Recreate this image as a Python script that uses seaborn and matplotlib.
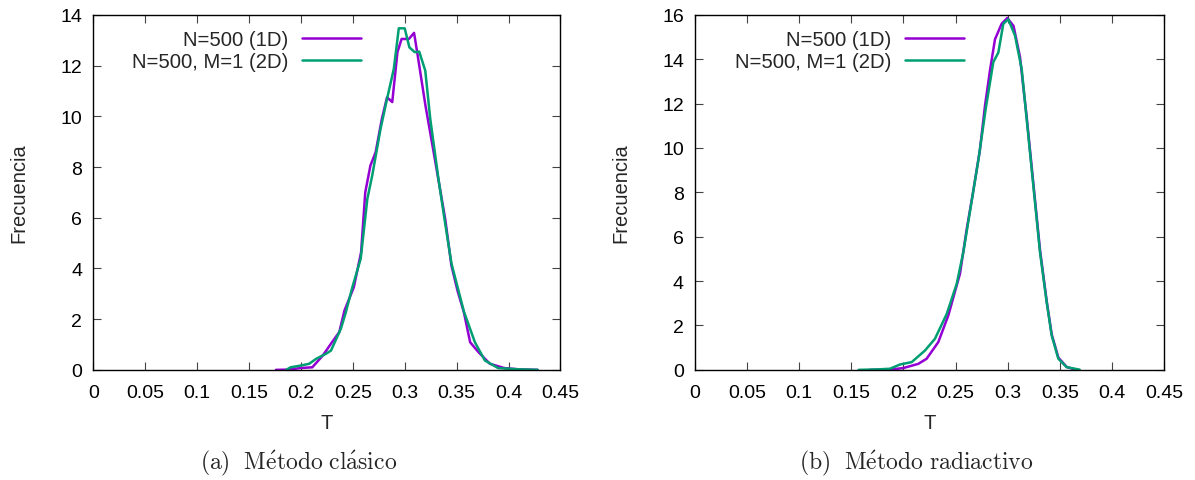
import pandas as pd
import matplotlib
matplotlib.use("Agg")
import matplotlib.pyplot as plt
import seaborn as sns

# ---- data ----------------------------------------------------------------
LABEL_1D = "N=500 (1D)"
LABEL_2D = "N=500, M=1 (2D)"

# (a) classic method
CLAS_T_1D = [0.176, 0.189, 0.199, 0.211, 0.221, 0.230, 0.237, 0.242, 0.251, 0.258,
             0.262, 0.267, 0.272, 0.278, 0.283, 0.288, 0.293, 0.297, 0.304, 0.309,
             0.312, 0.320, 0.329, 0.339, 0.345, 0.351, 0.357, 0.363, 0.371, 0.382,
             0.396, 0.410, 0.428]
CLAS_F_1D = [0.0, 0.01, 0.07, 0.10, 0.56, 1.09, 1.49, 2.34, 3.26, 4.64,
             7.0, 8.06, 8.58, 9.9, 10.75, 10.56, 12.53, 13.05, 13.05, 13.29,
             12.53, 10.42, 8.32, 5.95, 4.11, 3.1, 2.27, 1.09, 0.7, 0.24,
             0.07, 0.02, 0.0]
CLAS_T_2D = [0.186, 0.190, 0.200, 0.208, 0.2145, 0.224, 0.229, 0.2385, 0.2433, 0.2496,
             0.2576, 0.264, 0.2687, 0.2767, 0.283, 0.2895, 0.2943, 0.300, 0.3045, 0.3096,
             0.314, 0.3198, 0.3246, 0.3325, 0.3383, 0.345, 0.357, 0.3676, 0.3772, 0.390,
             0.410, 0.428]
CLAS_F_2D = [0.0, 0.1, 0.17, 0.24, 0.43, 0.63, 0.76, 1.62, 2.27, 3.26,
             4.38, 6.74, 7.66, 9.5, 10.69, 11.87, 13.47, 13.47, 12.72, 12.53,
             12.55, 11.8, 9.9, 7.53, 5.95, 4.2, 2.3, 1.09, 0.37, 0.07,
             0.02, 0.0]

# (b) radiative method
RAD_T_1D = [0.168, 0.180, 0.190, 0.1997, 0.2142, 0.2222, 0.2334, 0.243, 0.2542, 0.2607,
            0.2664, 0.2733, 0.2782, 0.283, 0.2878, 0.2942, 0.2996, 0.3056, 0.3118, 0.3182,
            0.3246, 0.331, 0.3374, 0.3422, 0.3486, 0.3566, 0.365]
RAD_F_1D = [0.0, 0.01, 0.03, 0.08, 0.27, 0.5, 1.25, 2.45, 4.33, 6.35,
            7.9, 9.9, 11.9, 13.5, 14.9, 15.6, 15.86, 15.5, 14.1, 11.4,
            8.4, 5.4, 3.1, 1.6, 0.55, 0.13, 0.01]
RAD_T_2D = [0.157, 0.175, 0.187, 0.1966, 0.2079, 0.2206, 0.2302, 0.2415, 0.2511, 0.2574,
            0.2654, 0.272, 0.279, 0.2862, 0.291, 0.2958, 0.3006, 0.307, 0.3134, 0.3182,
            0.3246, 0.331, 0.3374, 0.3422, 0.3486, 0.3566, 0.369]
RAD_F_2D = [0.0, 0.02, 0.05, 0.24, 0.35, 0.87, 1.4, 2.52, 3.88, 5.3,
            7.6, 9.5, 11.8, 13.87, 14.3, 15.6, 15.8, 15.07, 13.56, 11.31,
            8.3, 5.3, 3.05, 1.55, 0.5, 0.12, 0.01]

X_TICKS = [0, 0.05, 0.1, 0.15, 0.2, 0.25, 0.3, 0.35, 0.4, 0.45]
X_TICK_LABELS = ["0", "0.05", "0.1", "0.15", "0.2", "0.25", "0.3", "0.35", "0.4", "0.45"]
Y_TICKS_A = [0, 2, 4, 6, 8, 10, 12, 14]
Y_TICKS_B = [0, 2, 4, 6, 8, 10, 12, 14, 16]

CAPTION_A = r"$\mathrm{(a)\ \ M\acute{e}todo\ cl\acute{a}sico}$"
CAPTION_B = r"$\mathrm{(b)\ \ M\acute{e}todo\ radiactivo}$"

# gnuplot default colours
PALETTE = {LABEL_1D: "#9400D3", LABEL_2D: "#009E73"}

sns.set_theme(style="ticks")
plt.rcParams.update({
    "font.family": ["Liberation Sans", "DejaVu Sans"],
    "font.size": 14,
    "mathtext.fontset": "cm",
    "axes.linewidth": 1.0,
    "axes.edgecolor": "black",
    "xtick.direction": "in",
    "ytick.direction": "in",
    "xtick.top": True,
    "ytick.right": True,
    "xtick.major.size": 6,
    "ytick.major.size": 6,
    "xtick.major.width": 0.8,
    "ytick.major.width": 0.8,
    "xtick.color": "#444444",
    "ytick.color": "#444444",
    "xtick.labelcolor": "black",
    "ytick.labelcolor": "black",
    "xtick.labelsize": 14,
    "ytick.labelsize": 14,
})


def make_frame(t1, f1, t2, f2):
    d1 = pd.DataFrame({"T": t1, "Frecuencia": f1, "serie": LABEL_1D})
    d2 = pd.DataFrame({"T": t2, "Frecuencia": f2, "serie": LABEL_2D})
    return pd.concat([d1, d2], ignore_index=True)


def draw_panel(ax, df, yticks, caption, cap_x):
    sns.lineplot(data=df, x="T", y="Frecuencia", hue="serie", palette=PALETTE,
                 estimator=None, sort=False, linewidth=1.8, ax=ax)
    ax.set_xlim(0, 0.45)
    ax.set_ylim(yticks[0], yticks[-1])
    ax.set_xticks(X_TICKS)
    ax.set_xticklabels(X_TICK_LABELS)
    ax.set_yticks(yticks)
    ax.set_xlabel("T", fontsize=14.5, labelpad=9)
    ax.set_ylabel("Frecuencia", fontsize=14.5, labelpad=23)
    ax.tick_params(axis="x", pad=10)
    ax.tick_params(axis="y", pad=8)
    handles, labels = ax.get_legend_handles_labels()
    ax.legend(handles, labels, loc="upper right", bbox_to_anchor=(0.606, 1.0),
              markerfirst=False, frameon=False, fontsize=14.6,
              handlelength=2.9, handletextpad=0.7, labelspacing=0.15,
              borderaxespad=0.35)
    ax.figure.text(cap_x, 0.037, caption, ha="center", va="center", fontsize=17)


fig = plt.figure(figsize=(11.95, 4.81), dpi=100)
ax_a = fig.add_axes([0.078, 0.229, 0.391, 0.738])
ax_b = fig.add_axes([0.5816, 0.229, 0.3925, 0.738])

draw_panel(ax_a, make_frame(CLAS_T_1D, CLAS_F_1D, CLAS_T_2D, CLAS_F_2D), Y_TICKS_A, CAPTION_A, 0.250)
draw_panel(ax_b, make_frame(RAD_T_1D, RAD_F_1D, RAD_T_2D, RAD_F_2D), Y_TICKS_B, CAPTION_B, 0.7665)

fig.savefig("out.png", dpi=100)
plt.close(fig)
